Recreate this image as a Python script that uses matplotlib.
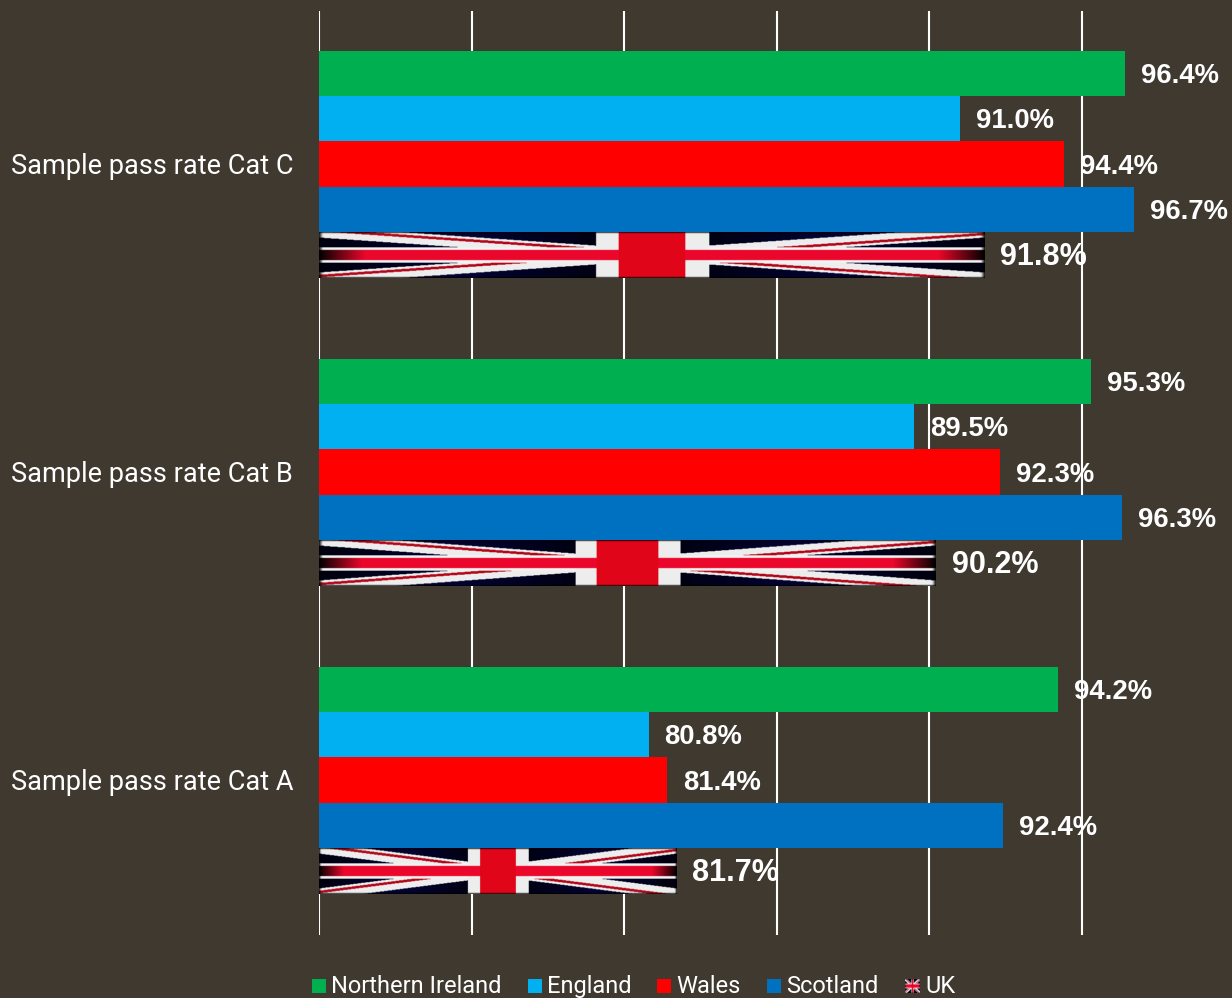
import numpy as np
import matplotlib
matplotlib.use("Agg")
import matplotlib.pyplot as plt
from matplotlib.patches import Rectangle

categories = ["Sample pass rate Cat A", "Sample pass rate Cat B", "Sample pass rate Cat C"]
northern_ireland = [94.2, 95.3, 96.4]
england = [80.8, 89.5, 91.0]
wales = [81.4, 92.3, 94.4]
scotland = [92.4, 96.3, 96.7]
uk = [81.7, 90.2, 91.8]
series_names = ["Northern Ireland", "England", "Wales", "Scotland", "UK"]
colors = ["#00B050", "#00B0F0", "#FF0000", "#0070C0"]
xticks = [70, 75, 80, 85, 90, 95]

BG = "#3F3930"
W, H = 1232, 998
X0, PX_PER_UNIT = 319.0, 30.52
TOP, BOTTOM = 11, 935


def flag_image(nx=500, ny=90):
    u = (np.arange(nx) + 0.5) / nx
    v = (np.arange(ny) + 0.5) / ny
    U, V = np.meshgrid(u, v)
    x, y = 2 * U - 1, 2 * V - 1
    img = np.zeros((ny, nx, 3))
    img[...] = (0.01, 0.01, 0.20)
    # navy darkens to black away from the centre of each triangle
    img = img * (0.35 + 0.65 * np.clip(1 - np.abs(np.abs(x) - 0.55) / 0.4, 0, 1))[..., None]
    d = np.abs(y) - np.abs(x)
    sign = np.where(x * y > 0, 1.0, -1.0)
    white = (np.abs(d) < 0.24)
    img[white] = (0.93, 0.93, 0.93)
    red = (d * sign > 0.03) & (d * sign < 0.14)
    img[red] = (0.70, 0.03, 0.10)
    img[np.abs(y) < 0.335] = (0.95, 0.95, 0.95)
    img[np.abs(x) < 0.17] = (0.93, 0.93, 0.93)
    img[np.abs(y) < 0.23] = (0.92, 0.03, 0.17)
    img[np.abs(x) < 0.10] = (0.88, 0.02, 0.10)
    redfade = np.clip((1 - np.abs(x)) / 0.14, 0, 1)[..., None]
    mask = (np.abs(y) < 0.23)[..., None]
    img = img * np.where(mask, redfade, 1.0)
    edge = np.clip((1 - np.abs(y)) / 0.07, 0, 1) * np.clip((1 - np.abs(x)) / 0.012, 0, 1)
    return np.clip(img * edge[..., None], 0, 1)


fig = plt.figure(figsize=(W / 100, H / 100), dpi=100, facecolor=BG)
ax = fig.add_axes([X0 / W, 1 - BOTTOM / H, 1 - X0 / W, (BOTTOM - TOP) / H], facecolor=BG)
for s in ax.spines.values():
    s.set_visible(False)
ax.set_xticks(xticks)
ax.tick_params(axis="x", length=0, labelbottom=False)
ax.grid(axis="x", color="white", lw=1.5, zorder=0)
ax.set_axisbelow(True)
ax.set_yticks(range(3))
ax.set_yticklabels(categories, family="Roboto", fontsize=19.5, color="white")
ax.tick_params(axis="y", length=0, pad=18.7)

bar_h = 45.3 / 308
pos = np.arange(3, dtype=float)
all_series = [northern_ireland, england, wales, scotland]
flag = flag_image()
offset_px = 16 / PX_PER_UNIT
label_dy = -2.5 / 308
flag_dy = -1 / 308
for k, vals in enumerate(all_series):
    y = pos + (2 - k) * bar_h
    ax.barh(y, np.array(vals) - 70, left=70, height=bar_h, color=colors[k], zorder=2)
    for yi, v in zip(y, vals):
        ax.text(v + offset_px, yi + label_dy, f"{v:.1f}%", va="center", ha="left", color="white",
                family="Liberation Sans", weight="bold", fontsize=19.8, zorder=5)
for yi, v in zip(pos - 2 * bar_h, uk):
    ax.imshow(flag, extent=(70, v, yi - bar_h / 2 + flag_dy, yi + bar_h / 2 + flag_dy), aspect="auto",
              interpolation="bilinear", zorder=3)
    ax.text(v + offset_px, yi + label_dy, f"{v:.1f}%", va="center", ha="left", color="white",
            family="Liberation Sans", weight="bold", fontsize=22, zorder=5)
ax.set_xlim(70, 70 + (W - X0) / PX_PER_UNIT)
shift = 1 / 308
ax.set_ylim(-0.5 - shift, 2.5 - shift)

# legend, laid out in figure pixels
legend_x = [312, 528, 657, 767, 905]
text_x = [331, 547, 676, 786, 925]
LEG_Y = 986
for i, name in enumerate(series_names):
    if i < 4:
        fig.add_artist(Rectangle((legend_x[i] / W, 1 - (LEG_Y + 7) / H), 14 / W, 14 / H,
                                 transform=fig.transFigure, color=colors[i], lw=0))
    else:
        la = fig.add_axes([legend_x[i] / W, 1 - (LEG_Y + 7) / H, 15 / W, 14 / H])
        la.imshow(flag_image(60, 60), aspect="auto", interpolation="bilinear")
        la.axis("off")
    fig.text(text_x[i] / W, 1 - 993 / H, name, family="Roboto", fontsize=17,
             color="white", va="baseline", ha="left")

fig.savefig("out.png", dpi=100, facecolor=BG)
